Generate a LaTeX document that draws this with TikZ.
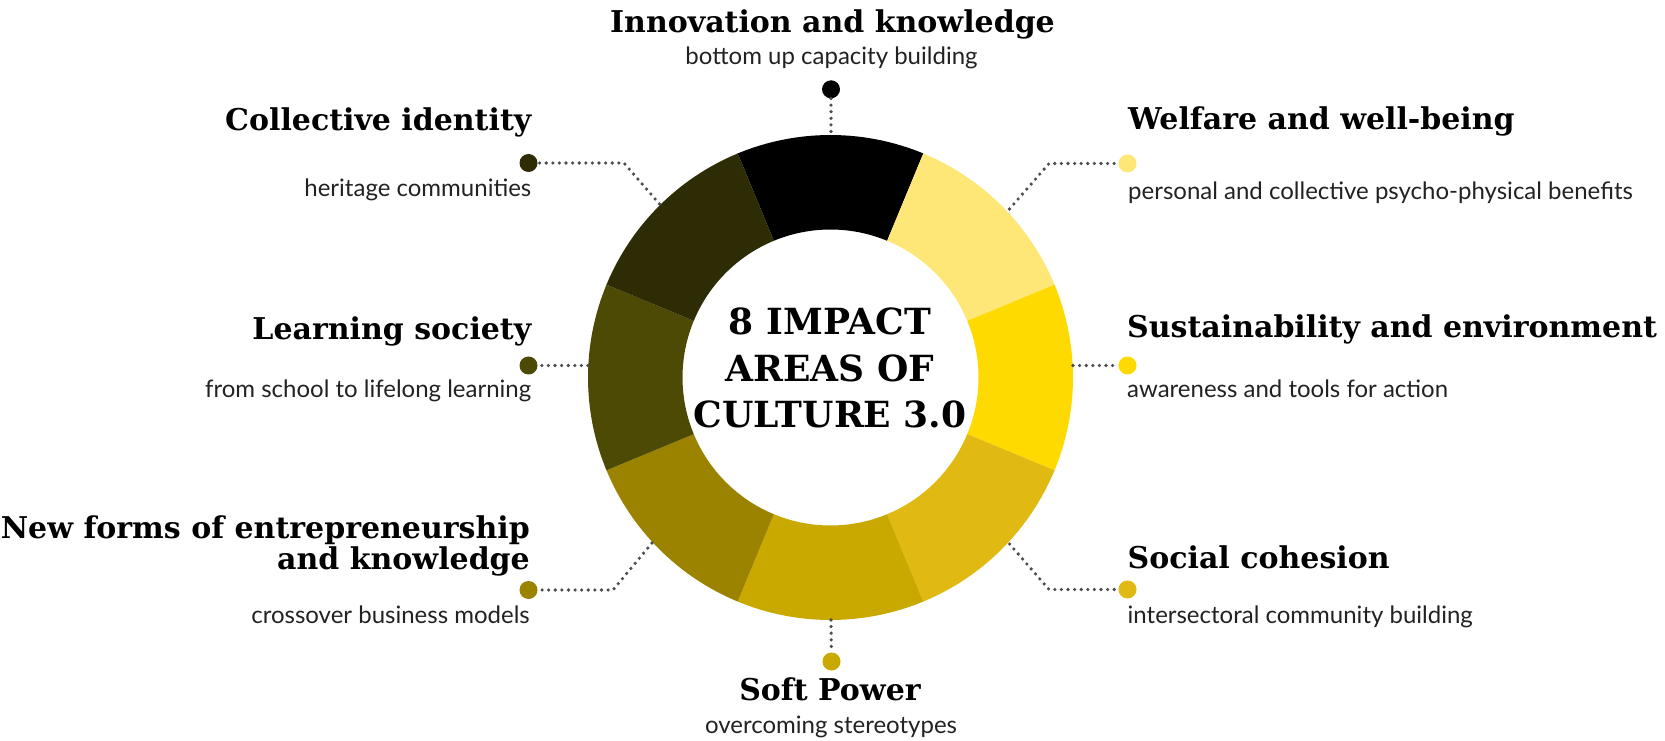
\documentclass[tikz,border=0pt]{standalone}
\usepackage{fontspec}
\setmainfont{Lato}
\newfontfamily\slabfont{DejaVu Serif}
\definecolor{areaN}{HTML}{000000}
\definecolor{areaNE}{HTML}{FFE777}
\definecolor{areaE}{HTML}{FFDA00}
\definecolor{areaSE}{HTML}{E0B912}
\definecolor{areaS}{HTML}{C9A900}
\definecolor{areaSW}{HTML}{9B8300}
\definecolor{areaW}{HTML}{4D4A06}
\definecolor{areaNW}{HTML}{2D2C05}
\definecolor{subgray}{HTML}{222222}
\definecolor{linegray}{HTML}{4D4D4D}

\begin{document}
\begin{tikzpicture}[x=1pt,y=1pt]
\tikzset{areatitle/.style={font=\slabfont\bfseries\fontsize{30}{29}\selectfont, inner sep=0pt},
         areasub/.style={font=\fontsize{24}{28}\selectfont, text=subgray, inner sep=0pt},
         areadot/.style={circle, fill=#1, minimum size=18pt, inner sep=0pt},
         dotline/.style={draw=linegray, line width=3.6pt, line cap=round, dash pattern=on 0pt off 6.6pt}}
\useasboundingbox (0,0) rectangle (1665,740);
\coordinate (c) at (830.5,362.5);
\foreach \a/\col in {90/areaN,45/areaNE,0/areaE,-45/areaSE,-90/areaS,-135/areaSW,180/areaW,135/areaNW}
  \fill[\col, shift={(c)}] (\a-22.5:242.5) arc[start angle=\a-22.5, end angle=\a+22.5, radius=242.5]
    -- (\a+22.5:148) arc[start angle=\a+22.5, end angle=\a-22.5, radius=148] -- cycle;

\node[font=\slabfont\bfseries\fontsize{36}{46.5}\selectfont, align=center, inner sep=0pt] (core) at (830,372) {8 IMPACT\\AREAS OF\\CULTURE 3.0};

\node[areadot=areaN] (dotN) at (831,650.7) {};
\node[areadot=areaNE] (dotNE) at (1127.5,576.5) {};
\node[areadot=areaE] (dotE) at (1127.5,374.5) {};
\node[areadot=areaSE] (dotSE) at (1127.5,150.5) {};
\node[areadot=areaS] (dotS) at (831.5,78.5) {};
\node[areadot=areaSW] (dotSW) at (528.5,150) {};
\node[areadot=areaW] (dotW) at (528.5,374.5) {};
\node[areadot=areaNW] (dotNW) at (528.5,577) {};

\coordinate (rN) at (831,605);
\coordinate (rNE) at (1009.5,531);
\coordinate (kNE) at (1049,576.5);
\coordinate (rE) at (1073,374.5);
\coordinate (rSE) at (1009.6,196);
\coordinate (kSE) at (1049,150.5);
\coordinate (rS) at (831,120);
\coordinate (rSW) at (652,197);
\coordinate (kSW) at (613,150);
\coordinate (rW) at (588,374.5);
\coordinate (rNW) at (659.5,536);
\coordinate (kNW) at (624,577);

\draw[dotline] (dotN) -- (rN);
\draw[dotline] (rNE) -- (kNE) -- (dotNE);
\draw[dotline] (rE) -- (dotE);
\draw[dotline] (rSE) -- (kSE) -- (dotSE);
\draw[dotline] (rS) -- (dotS);
\draw[dotline] (rSW) -- (kSW) -- (dotSW);
\draw[dotline] (rW) -- (dotW);
\draw[dotline] (rNW) -- (kNW) -- (dotNW);

\node[areatitle, anchor=base] (tN) at (832.5,707) {Innovation and knowledge};
\node[areasub, anchor=base] (sN) at (831.5,675) {bottom up capacity building};
\node[areatitle, anchor=base west] (tNE) at (1128,610.5) {Welfare and well-being};
\node[areasub, anchor=base west] (sNE) at (1128,540) {personal and collective psycho-physical benefits};
\node[areatitle, anchor=base west] (tE) at (1127,402) {Sustainability and environment};
\node[areasub, anchor=base west] (sE) at (1127,342) {awareness and tools for action};
\node[areatitle, anchor=base west] (tSE) at (1127.5,172) {Social cohesion};
\node[areasub, anchor=base west] (sSE) at (1127.5,117) {intersectoral community building};
\node[areatitle, anchor=base] (tS) at (830,40) {Soft Power};
\node[areasub, anchor=base] (sS) at (831,7) {overcoming stereotypes};
\node[areatitle, anchor=north east, align=right] (tSW) at (530,224) {New forms of entrepreneurship\\and knowledge};
\node[areasub, anchor=base east] (sSW) at (530,117) {crossover business models};
\node[areatitle, anchor=base east] (tW) at (531.5,400) {Learning society};
\node[areasub, anchor=base east] (sW) at (531.5,342) {from school to lifelong learning};
\node[areatitle, anchor=base east] (tNW) at (531.5,609.5) {Collective identity};
\node[areasub, anchor=base east] (sNW) at (531.5,543.3) {heritage communities};
\end{tikzpicture}
\end{document}
